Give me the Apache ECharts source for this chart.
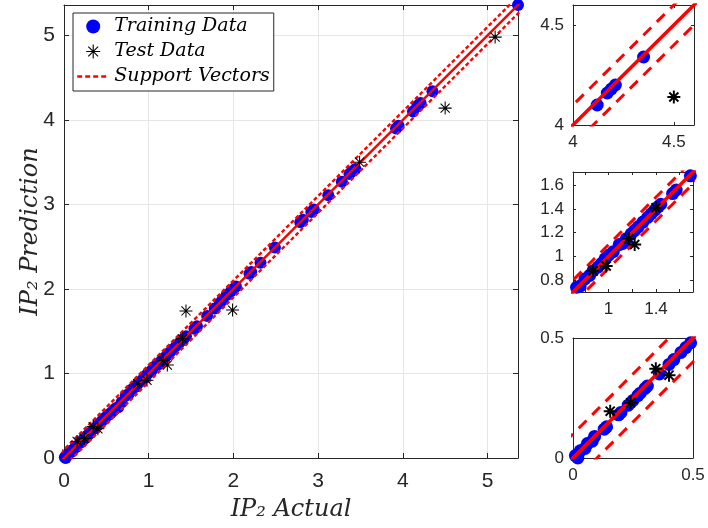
<!DOCTYPE html>
<html>
<head>
<meta charset="utf-8">
<script src="https://cdn.jsdelivr.net/npm/echarts@6/dist/echarts.min.js"></script>
<style>
html, body { margin: 0; padding: 0; background: #fff; }
#chart { width: 708px; height: 528px; }
</style>
</head>
<body>
<div id="chart"></div>
<script>
// training points (actual, prediction)
const trainX = [0.01, 0.02, 0.03, 0.05, 0.06, 0.08, 0.09, 0.13, 0.14, 0.19, 0.20, 0.23, 0.25, 0.27, 0.28, 0.30, 0.31, 0.36, 0.40, 0.42,
    0.45, 0.47, 0.49, 0.52, 0.55, 0.58, 0.61, 0.64, 0.68, 0.73, 0.76, 0.80, 0.84, 0.87, 0.91, 0.94, 0.97, 1.00, 1.04, 1.09,
    1.12, 1.15, 1.19, 1.22, 1.25, 1.29, 1.33, 1.36, 1.39, 1.42, 1.44, 1.54, 1.57, 1.69, 1.78, 1.84, 1.87, 1.92, 1.97, 2.00,
    2.03, 2.19, 2.21, 2.32, 2.49, 2.79, 2.82, 2.92, 2.95, 3.12, 3.28, 3.37, 3.40, 3.44, 3.92, 3.95, 4.12, 4.17, 4.19, 4.21,
    4.35, 5.36];
const trainY = [0.01, 0.00, 0.03, 0.04, 0.06, 0.07, 0.09, 0.12, 0.13, 0.18, 0.19, 0.22, 0.24, 0.26, 0.27, 0.29, 0.30, 0.35, 0.39, 0.41,
    0.44, 0.46, 0.48, 0.51, 0.53, 0.56, 0.59, 0.60, 0.66, 0.74, 0.75, 0.81, 0.84, 0.88, 0.91, 0.94, 0.98, 1.01, 1.04, 1.10,
    1.11, 1.15, 1.19, 1.22, 1.25, 1.29, 1.33, 1.36, 1.39, 1.42, 1.44, 1.53, 1.56, 1.68, 1.77, 1.83, 1.87, 1.93, 1.97, 2.00,
    2.03, 2.18, 2.20, 2.31, 2.49, 2.79, 2.82, 2.91, 2.94, 3.11, 3.27, 3.36, 3.39, 3.42, 3.90, 3.93, 4.10, 4.16, 4.18, 4.20,
    4.34, 5.36];

// test points
const testX = [0.155, 0.24, 0.345, 0.40, 0.87, 0.98, 1.17, 1.22, 1.40, 1.44, 1.99, 3.49, 4.50, 5.09];
const testY = [0.195, 0.23, 0.372, 0.345, 0.88, 0.92, 1.15, 1.10, 1.41, 1.74, 1.75, 3.50, 4.14, 4.98];

// epsilon tube of the regression
const epsilon = 0.1;
const lineX = [-0.2, 5.6];

const mainTicks = [0, 1, 2, 3, 4, 5];
const inset1Ticks = [4, 4.5];
const inset2Ticks = [0.8, 1, 1.2, 1.4, 1.6];
const inset2XLabels = [1, 1.4];
const inset3Ticks = [0, 0.5];

const trainData = trainX.map((x, i) => [x, trainY[i]]);
const testData = testX.map((x, i) => [x, testY[i]]);
const fitLine = lineX.map(x => [x, x]);
const upperLine = lineX.map(x => [x, x + epsilon]);
const lowerLine = lineX.map(x => [x, x - epsilon]);

// asterisk marker, w = arm thickness in a 20 unit box
function starPath(w) {
    const h = w / 2, d = w / 2 / Math.SQRT2;
    const f = v => +v.toFixed(3);
    return 'path://' +
        `M0 ${f(10 - h)} L20 ${f(10 - h)} L20 ${f(10 + h)} L0 ${f(10 + h)} Z ` +
        `M${f(10 - h)} 0 L${f(10 + h)} 0 L${f(10 + h)} 20 L${f(10 - h)} 20 Z ` +
        `M${f(3 - d)} ${f(3 + d)} L${f(3 + d)} ${f(3 - d)} L${f(17 + d)} ${f(17 - d)} L${f(17 - d)} ${f(17 + d)} Z ` +
        `M${f(17 - d)} ${f(3 - d)} L${f(17 + d)} ${f(3 + d)} L${f(3 + d)} ${f(17 + d)} L${f(3 - d)} ${f(17 - d)} Z`;
}

const axisColor = '#262626';
const labelFont = 'Liberation Sans';
const titleFont = 'DejaVu Serif';

const grids = [
    { left: 64, top: 5, width: 454, height: 453 },
    { left: 573, top: 5, width: 121, height: 120 },
    { left: 573, top: 172, width: 120, height: 120 },
    { left: 573, top: 338, width: 120, height: 120 }
];

const ranges = [
    { min: 0, max: 5.36 },
    { min: 4, max: 4.6 },
    { min: 0.7, max: 1.712 },
    { min: 0, max: 0.5 }
];

const xTicks = [mainTicks, inset1Ticks, inset2Ticks, inset3Ticks];
const xLabels = [mainTicks, inset1Ticks, inset2XLabels, inset3Ticks];
const yTicks = [mainTicks, inset1Ticks, inset2Ticks, inset3Ticks];

const xAxes = [];
const yAxes = [];
grids.forEach((g, i) => {
    const isMain = i === 0;
    const fs = isMain ? 21 : 17;
    const tickLen = isMain ? 5 : 3;
    const common = {
        type: 'value',
        gridIndex: i,
        min: ranges[i].min,
        max: ranges[i].max,
        axisLine: { show: true, onZero: false, lineStyle: { color: axisColor, width: 1 } },
        axisTick: { show: true, inside: true, length: tickLen, customValues: xTicks[i], lineStyle: { color: axisColor } },
        splitLine: { show: isMain, lineStyle: { color: '#e6e6e6', width: 1 } }
    };
    const label = (vals, margin) => ({
        show: true, customValues: vals, margin: margin,
        fontFamily: labelFont, fontSize: fs, color: axisColor
    });
    const titleStyle = { fontFamily: titleFont, fontStyle: 'italic', fontSize: 24, color: axisColor };
    xAxes.push(Object.assign({}, common, {
        position: 'bottom',
        axisLabel: label(xLabels[i], isMain ? 13 : 9),
        name: isMain ? 'IP₂ Actual' : '',
        nameLocation: 'middle',
        nameGap: 40,
        nameMoveOverlap: false,
        nameTextStyle: titleStyle
    }));
    xAxes.push(Object.assign({}, common, {
        position: 'top',
        splitLine: { show: false },
        axisLabel: { show: false }
    }));
    yAxes.push(Object.assign({}, common, {
        position: 'left',
        axisTick: Object.assign({}, common.axisTick, { customValues: yTicks[i] }),
        axisLabel: label(yTicks[i], 9),
        name: isMain ? 'IP₂ Prediction' : '',
        nameLocation: 'middle',
        nameGap: 21,
        nameMoveOverlap: false,
        nameTextStyle: titleStyle
    }));
    yAxes.push(Object.assign({}, common, {
        position: 'right',
        axisTick: Object.assign({}, common.axisTick, { customValues: yTicks[i] }),
        splitLine: { show: false },
        axisLabel: { show: false }
    }));
});

const series = [];
grids.forEach((g, i) => {
    const isMain = i === 0;
    const ax = { xAxisIndex: 2 * i, yAxisIndex: 2 * i };
    series.push(Object.assign({
        name: 'Training Data', type: 'scatter', data: trainData,
        symbol: 'circle', symbolSize: isMain ? 12 : 13,
        itemStyle: { color: '#0000ff', opacity: 1 }, z: 2
    }, ax));
    series.push(Object.assign({
        name: 'fit', type: 'line', data: fitLine, symbol: 'none',
        lineStyle: { color: '#ff0000', width: isMain ? 2.5 : 3.5 }, z: 3
    }, ax));
    [upperLine, lowerLine].forEach(d => {
        series.push(Object.assign({
            name: 'Support Vectors', type: 'line', data: d, symbol: 'none',
            itemStyle: { color: '#ff0000' },
            lineStyle: { color: '#ff0000', width: isMain ? 2.4 : 3, type: isMain ? [4, 2.5] : [11, 8] }, z: 3
        }, ax));
    });
    series.push(Object.assign({
        name: 'Test Data', type: 'scatter', data: testData,
        symbol: starPath(isMain ? 1.6 : 3), symbolSize: 13,
        itemStyle: { color: '#000000', opacity: 1 }, z: 4
    }, ax));
});

const chart = echarts.init(document.getElementById('chart'), null, { renderer: 'canvas' });
chart.setOption({
    animation: false,
    backgroundColor: '#ffffff',
    grid: grids.map(g => Object.assign({ containLabel: false }, g)),
    xAxis: xAxes,
    yAxis: yAxes,
    legend: {
        data: [
            'Training Data',
            'Test Data',
            { name: 'Support Vectors', itemStyle: { opacity: 0 }, lineStyle: { width: 2.4, type: [5, 3] } }
        ],
        orient: 'vertical',
        left: 73,
        top: 13,
        padding: [4, 4, 5, 3],
        itemGap: 6,
        itemWidth: 32,
        itemHeight: 14,
        backgroundColor: '#ffffff',
        borderColor: axisColor,
        borderWidth: 1,
        selectedMode: false,
        textStyle: { fontFamily: titleFont, fontStyle: 'italic', fontSize: 19, color: '#000000' }
    },
    series: series
});
</script>
</body>
</html>
